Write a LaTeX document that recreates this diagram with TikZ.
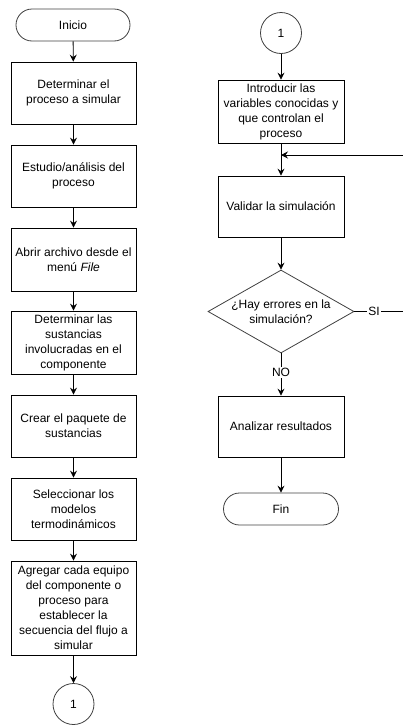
\documentclass[tikz,border=0pt]{standalone}
\usepackage{fontspec}
\setmainfont{Liberation Sans}
\usetikzlibrary{arrows.meta,shapes.geometric}
\begin{document}
\begin{tikzpicture}[x=1pt,y=-1pt,
  every node/.style={font=\fontsize{12}{15}\selectfont, align=center, inner sep=0pt},
  proc/.style={draw=black, line width=0.8pt, minimum width=125pt, fill=white},
  term/.style={draw=black!75, line width=0.8pt, rounded corners=16pt, minimum width=114pt, minimum height=32pt},
  conn/.style={circle, draw=black!75, line width=0.8pt, minimum size=41pt},
  arr/.style={draw=black, line width=0.8pt, -{Stealth[length=7pt,width=7pt,inset=2.5pt]}},
  lbl/.style={fill=white, inner sep=1pt}
]
\useasboundingbox (0,0) rectangle (403,726);
% left column
\node[term] (ini) at (73,25) {Inicio};
\node[proc, minimum height=62pt] (b1) at (73.5,93) {Determinar el\\proceso a simular};
\node[proc, minimum height=62pt] (b2) at (73.5,176) {Estudio/análisis del\\proceso};
\node[proc, minimum height=63pt] (b3) at (73.5,259.5) {Abrir archivo desde el\\menú \textit{File}};
\node[proc, minimum height=63pt] (b4) at (73.5,342.5) {Determinar las\\sustancias\\involucradas en el\\componente};
\node[proc, minimum height=62pt] (b5) at (73.5,426) {Crear el paquete de\\sustancias};
\node[proc, minimum height=62pt] (b6) at (73.5,509) {Seleccionar los\\modelos\\termodinámicos};
\node[proc, minimum height=94pt] (b7) at (73.5,608) {Agregar cada equipo\\del componente o\\proceso para\\establecer la\\secuencia del flujo a\\simular};
\node[conn] (c1) at (73.5,704) {1};
\draw[arr] (ini) -- (b1);
\draw[arr] (b1) -- (b2);
\draw[arr] (b2) -- (b3);
\draw[arr] (b3) -- (b4);
\draw[arr] (b4) -- (b5);
\draw[arr] (b5) -- (b6);
\draw[arr] (b6) -- (b7);
\draw[arr] (b7) -- (c1);
% right column
\node[conn] (c2) at (281,33) {1};
\node[proc, minimum width=126pt, minimum height=63pt] (r1) at (281,111.5) {Introducir las\\variables conocidas y\\que controlan el\\proceso};
\node[proc, minimum width=126pt, minimum height=61pt] (r2) at (281,206.5) {Validar la simulación};
\node[diamond, draw=black!75, line width=0.8pt, minimum width=146pt, minimum height=83pt] (d) at (281,311.5) {};
\node (dt) at (d) {¿Hay errores en la\\simulación?};
\node[proc, minimum width=126pt, minimum height=61pt] (r3) at (281,426.5) {Analizar resultados};
\node[term, minimum width=115pt] (fin) at (281,509) {Fin};
\coordinate (m) at (281,155);
\coordinate (e1) at (406,311.5);
\coordinate (e2) at (406,155);
\draw[arr] (c2) -- (r1);
\draw[arr] (r1) -- (r2);
\draw[arr] (r2) -- (d.north);
\draw[arr] (d) -- node[lbl, pos=0.45] {NO} (r3);
\draw[arr] (r3) -- (fin);
\draw[arr] (d.east) -- node[lbl, pos=0.38] {SI} (e1) -- (e2) -- (m);
\end{tikzpicture}
\end{document}
